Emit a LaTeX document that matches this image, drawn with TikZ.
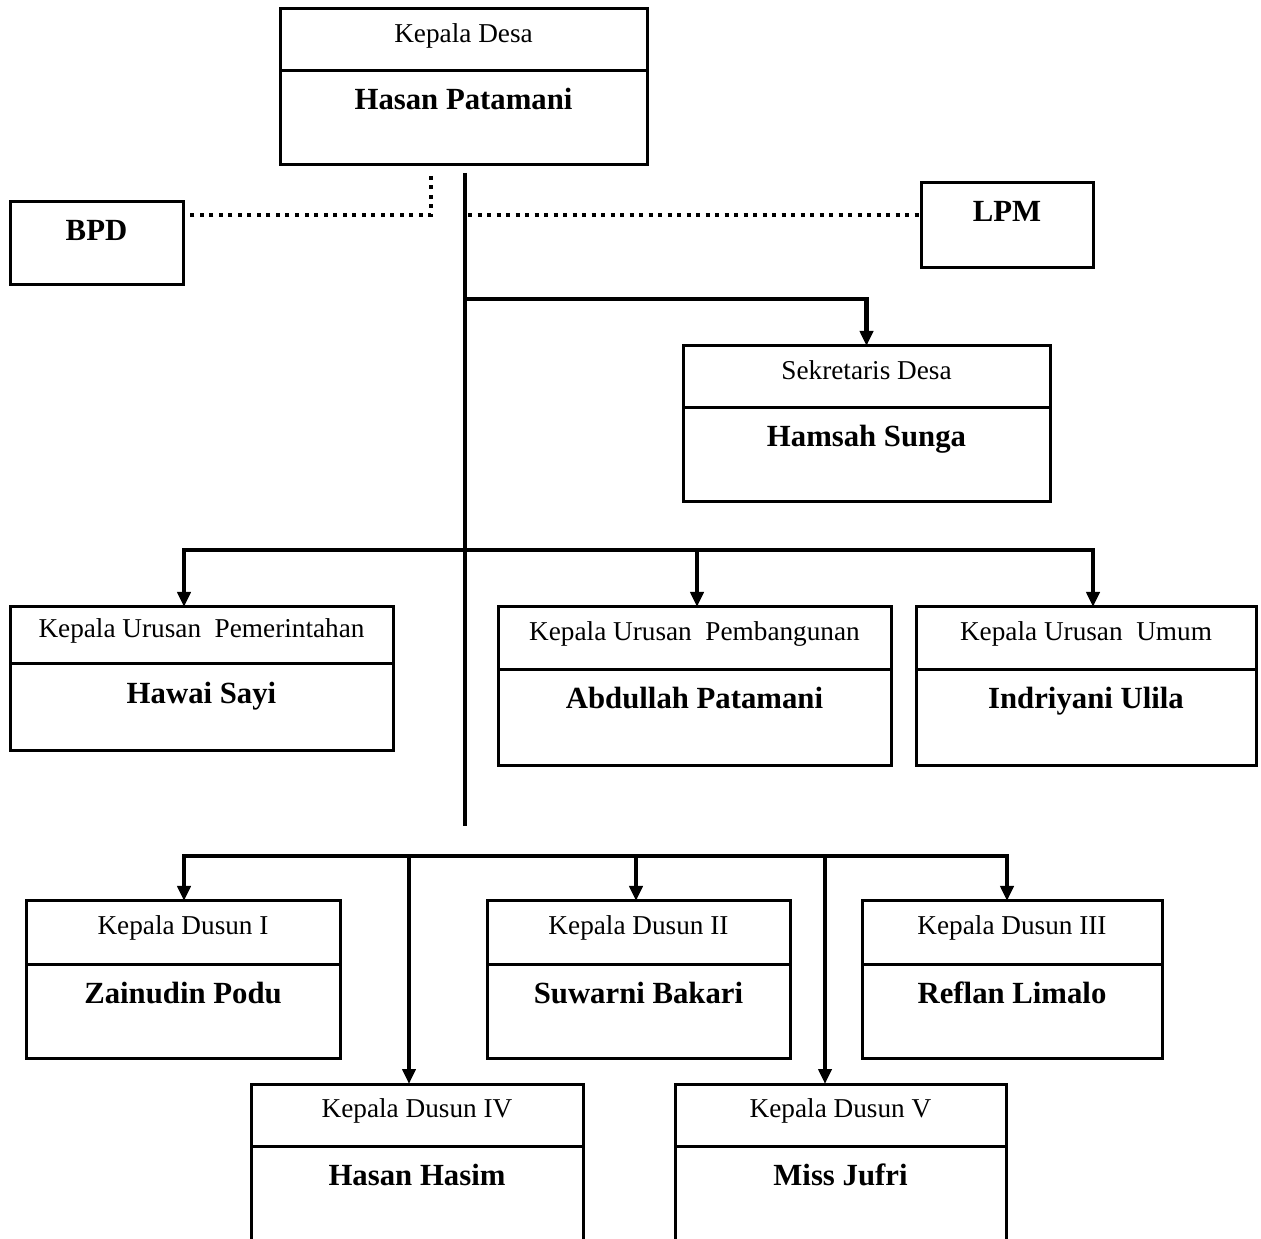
\documentclass[tikz,border=0pt]{standalone}
\usepackage{fontspec}
\setmainfont{Liberation Serif}
\usepackage{tikz}
\usetikzlibrary{arrows.meta,positioning}
\newcommand{\titlesize}{\fontsize{15.5}{18}\selectfont}
\newcommand{\namesize}{\fontsize{17.5}{20}\selectfont\bfseries}
\tikzset{
    titlebox/.style={draw, line width=0.6mm, inner sep=0pt, outer sep=0pt, text depth=2.8mm, font=\titlesize},
    namebox/.style={draw, line width=0.6mm, inner xsep=0pt, inner ysep=0pt, outer sep=0pt, text height=7.8mm, font=\namesize},
    link/.style={line width=0.95mm},
    dotline/.style={line width=0.8mm, dash pattern=on 0.8mm off 1.1mm}
}
\newcommand{\orgbox}[8]{
    \node[titlebox, minimum width=#4, minimum height=#5, anchor=north west] (#1) at (#2,#3) {#7};
    \node[namebox, minimum width=#4, text depth=#6, anchor=north] (#1n) at (#1.south) {#8};
}

\begin{document}
\begin{tikzpicture}[x=0.2mm, y=-0.2mm, >={Triangle[width=2.6mm,length=3mm]}]
    \useasboundingbox (0,0) rectangle (1261,1239);
    \clip (0,0) rectangle (1261,1239);

    % kepala desa and partners
    \orgbox{kades}{280}{9}{73.4mm}{12.4mm}{11mm}{Kepala Desa}{Hasan Patamani}
    \node[namebox, minimum width=34.6mm, text depth=8.8mm, anchor=north west] (bpd) at (10,202) {BPD};
    \node[namebox, minimum width=34.4mm, text depth=9.2mm, anchor=north west] (lpm) at (921,183) {LPM};

    % staff
    \orgbox{sekdes}{683}{346}{73.4mm}{12.4mm}{11mm}{Sekretaris Desa}{Hamsah Sunga}
    \orgbox{kaurpem}{10}{607}{76.6mm}{11.4mm}{9.4mm}{Kepala Urusan\ \ Pemerintahan}{Hawai Sayi}
    \orgbox{kaurbang}{498}{607}{78.6mm}{12.6mm}{11.2mm}{Kepala Urusan\ \ Pembangunan}{Abdullah Patamani}
    \orgbox{kaurum}{916}{607}{68mm}{12.6mm}{11.2mm}{Kepala Urusan\ \ Umum}{Indriyani Ulila}

    % dusun
    \orgbox{kadusI}{26}{901}{62.8mm}{12.6mm}{11mm}{Kepala Dusun I}{Zainudin Podu}
    \orgbox{kadusII}{487}{901}{60.6mm}{12.6mm}{11mm}{Kepala Dusun II}{Suwarni Bakari}
    \orgbox{kadusIII}{862}{901}{60mm}{12.6mm}{11mm}{Kepala Dusun III}{Reflan Limalo}
    \orgbox{kadusIV}{251}{1084}{66.4mm}{12.4mm}{11mm}{Kepala Dusun IV}{Hasan Hasim}
    \orgbox{kadusV}{675}{1084}{66.2mm}{12.4mm}{11mm}{Kepala Dusun V}{Miss Jufri}

    % junction points
    \coordinate (trunktop) at (465,173);
    \coordinate (trunkend) at (465,826);
    \coordinate (bpdtop) at (431,176);
    \coordinate (bpdjoin) at (431,215);
    \coordinate (lpmjoin) at (468,215);
    \coordinate (sekjoin) at (465,299);
    \coordinate (droppem) at (184,550);
    \coordinate (dropbang) at (697,550);
    \coordinate (dropum) at (1093,550);
    \coordinate (dropI) at (184,856);
    \coordinate (dropIV) at (409,856);
    \coordinate (dropII) at (636,856);
    \coordinate (dropV) at (825,856);
    \coordinate (dropIII) at (1007,856);

    \draw[link] (trunktop) -- (trunkend);
    \draw[dotline] (bpdtop) -- (bpdjoin) -- (bpdjoin -| bpd.east);
    \draw[dotline] (lpmjoin) -- (lpmjoin -| lpm.west);
    \draw[link,->] (sekjoin) -| (sekdes.north);

    \draw[link,<->] (droppem |- kaurpem.north) -- (droppem) -- (dropum) -- (dropum |- kaurum.north);
    \draw[link,->] (dropbang) -- (dropbang |- kaurbang.north);

    \draw[link,<->] (dropI |- kadusI.north) -- (dropI) -- (dropIII) -- (dropIII |- kadusIII.north);
    \draw[link,->] (dropIV) -- (dropIV |- kadusIV.north);
    \draw[link,->] (dropII) -- (dropII |- kadusII.north);
    \draw[link,->] (dropV) -- (dropV |- kadusV.north);
\end{tikzpicture}
\end{document}
